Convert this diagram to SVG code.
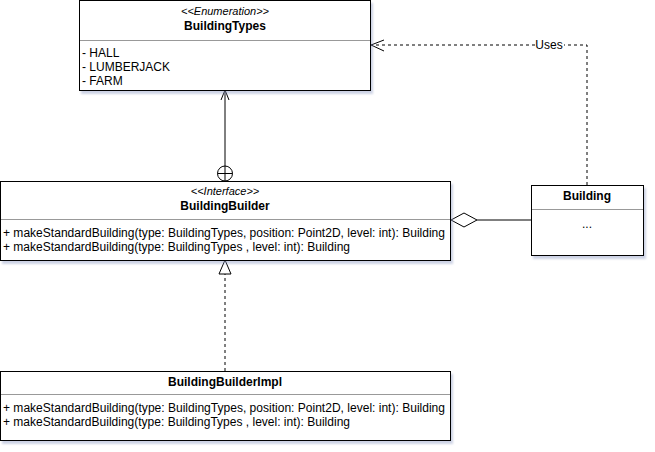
<svg xmlns="http://www.w3.org/2000/svg" width="655" height="452" viewBox="0 0 655 452">
<style>
.box{fill:#fff;stroke:#000;stroke-width:1;filter:url(#sh)}
.div{stroke:#999;stroke-width:1}
.t{font-family:"Liberation Sans",Arial,sans-serif;font-size:12px;fill:#000}
.b{font-weight:bold;text-anchor:middle}
.st{font-style:italic;text-anchor:middle;font-size:11px}
.c{text-anchor:middle}
.ln{fill:none;stroke:#000;stroke-width:1}
.dash{stroke-dasharray:3 3}
</style>
<defs>
<filter id="sh" x="-5%" y="-5%" width="115%" height="130%">
<feDropShadow dx="2" dy="3" stdDeviation="1" flood-color="#8f9cc4" flood-opacity="0.45"/>
</filter>
</defs>
<rect width="655" height="452" fill="#fff"/>
<g id="connectors">
<line class="ln" x1="225" y1="90" x2="225" y2="166"/>
<polyline class="ln" points="221,100 225,90 229,100"/>
<circle class="ln" cx="225" cy="173.5" r="7.5" fill="#fff"/>
<line class="ln" x1="217.5" y1="173.5" x2="232.5" y2="173.5"/>
<line class="ln" x1="225" y1="166" x2="225" y2="181"/>
<line class="ln dash" x1="225" y1="371" x2="225" y2="274"/>
<polygon class="ln" points="225,260 219,274 231,274" fill="#fff"/>
<line class="ln" x1="477" y1="220" x2="531" y2="220"/>
<polygon class="ln" points="451,220 464,213 477,220 464,227" fill="#fff"/>
<polyline class="ln dash" points="587,185 587,45 371,45"/>
<polyline class="ln" points="384,40 371,45 384,51"/>
<rect x="535" y="38" width="29" height="14" fill="#fff"/>
<text class="t c" x="549" y="49">Uses</text>
</g>
<g id="BuildingTypes">
<rect class="box" x="79.5" y="0.5" width="291" height="90"/>
<line class="div" x1="80" y1="40.5" x2="370" y2="40.5"/>
<text class="t st" x="225" y="15">&lt;&lt;Enumeration&gt;&gt;</text>
<text class="t b" x="225" y="30">BuildingTypes</text>
<text class="t" x="82" y="57">- HALL</text>
<text class="t" x="82" y="71">- LUMBERJACK</text>
<text class="t" x="82" y="85">- FARM</text>
</g>
<g id="BuildingBuilder">
<rect class="box" x="0.5" y="181.5" width="450" height="79"/>
<line class="div" x1="1" y1="219.5" x2="450" y2="219.5"/>
<text class="t st" x="225" y="195">&lt;&lt;Interface&gt;&gt;</text>
<text class="t b" x="225" y="210">BuildingBuilder</text>
<text class="t" x="3" y="237" textLength="442" lengthAdjust="spacingAndGlyphs">+ makeStandardBuilding(type: BuildingTypes, position: Point2D, level: int): Building</text>
<text class="t" x="3" y="251" textLength="347" lengthAdjust="spacingAndGlyphs">+ makeStandardBuilding(type: BuildingTypes , level: int): Building</text>
</g>
<g id="Building">
<rect class="box" x="531.5" y="185.5" width="112" height="70"/>
<line class="div" x1="532" y1="209.5" x2="643" y2="209.5"/>
<text class="t b" x="587" y="200">Building</text>
<text class="t c" x="587" y="228">...</text>
</g>
<g id="BuildingBuilderImpl">
<rect class="box" x="0.5" y="371.5" width="450" height="69"/>
<line class="div" x1="1" y1="394.5" x2="450" y2="394.5"/>
<text class="t b" x="225" y="386">BuildingBuilderImpl</text>
<text class="t" x="3" y="412" textLength="442" lengthAdjust="spacingAndGlyphs">+ makeStandardBuilding(type: BuildingTypes, position: Point2D, level: int): Building</text>
<text class="t" x="3" y="426" textLength="347" lengthAdjust="spacingAndGlyphs">+ makeStandardBuilding(type: BuildingTypes , level: int): Building</text>
</g>
</svg>
